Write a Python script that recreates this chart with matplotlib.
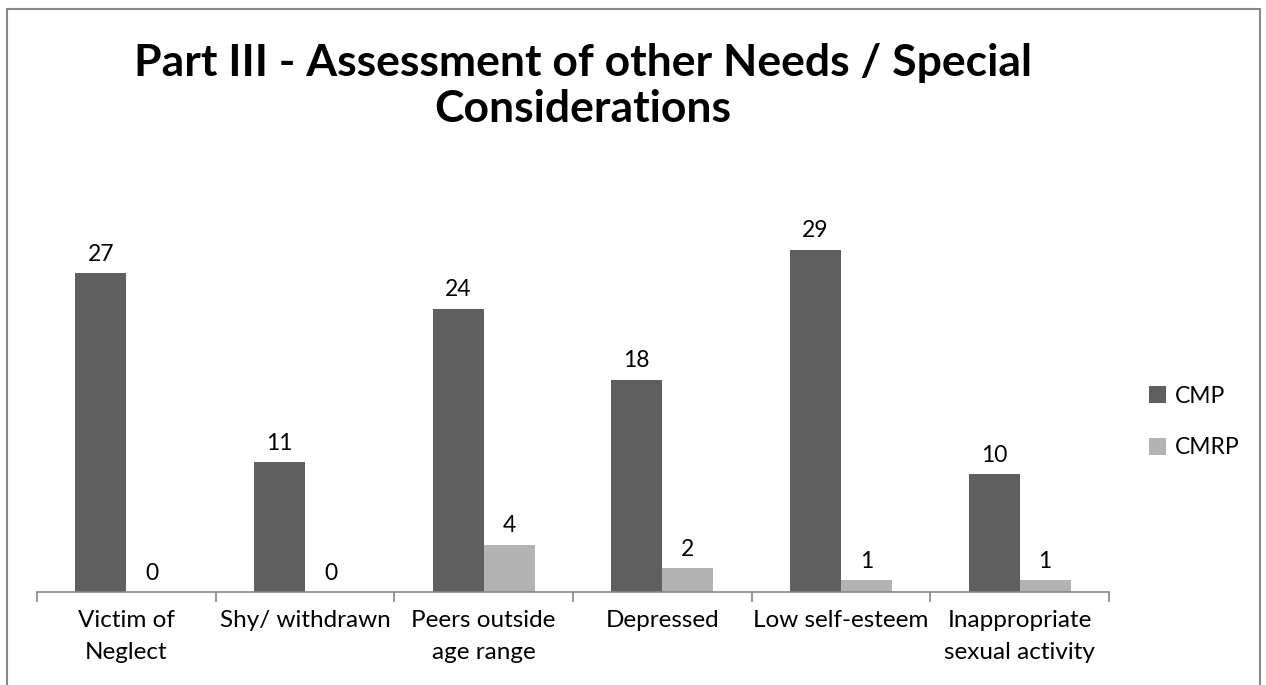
import numpy as np
import matplotlib.pyplot as plt
from matplotlib.patches import Rectangle

categories = ['Victim of\nNeglect', 'Shy/ withdrawn', 'Peers outside\nage range',
              'Depressed', 'Low self-esteem', 'Inappropriate\nsexual activity']
cmp_vals = [27, 11, 24, 18, 29, 10]
cmrp_vals = [0, 0, 4, 2, 1, 1]

dark = '#5f5f5f'
light = '#b3b3b3'

plt.rcParams['font.family'] = ['Lato', 'DejaVu Sans']

fig = plt.figure(figsize=(12.66, 6.85), dpi=100)
ax = fig.add_axes([37 / 1266, 1 - 592 / 685, (1109 - 37) / 1266, (592 - 179) / 685])

x = np.arange(len(categories))
w = 0.286
b1 = ax.bar(x - w / 2, cmp_vals, w, color=dark, label='CMP')
b2 = ax.bar(x + w / 2, cmrp_vals, w, color=light, label='CMRP')

for bars, vals in ((b1, cmp_vals), (b2, cmrp_vals)):
    for r, v in zip(bars, vals):
        ax.annotate(str(v), (r.get_x() + r.get_width() / 2, v), xytext=(0, 6),
                    textcoords='offset points', ha='center', va='bottom', fontsize=16.5)

ax.set_xlim(-0.5, len(categories) - 0.5)
ax.set_ylim(0, 35)
ax.set_yticks([])
for s in ('top', 'right', 'left'):
    ax.spines[s].set_visible(False)
ax.spines['bottom'].set_color('#868686')
ax.spines['bottom'].set_linewidth(1.2)

# category labels sit between tick marks placed at the boundaries
ax.set_xticks(np.arange(len(categories) + 1) - 0.5)
ax.set_xticklabels([])
ax.tick_params(axis='x', length=7, width=1.2, color='#868686')
ax.set_xticks(x, minor=True)
ax.set_xticklabels(categories, minor=True, fontsize=17.5, linespacing=1.65)
ax.tick_params(axis='x', which='minor', length=0, pad=13)

fig.text(583 / 1266, 1 - 86 / 685, 'Part III - Assessment of other Needs / Special\nConsiderations',
         ha='center', va='center', fontsize=32, fontweight='bold', linespacing=1.2)

leg = fig.legend(handles=[b1, b2], loc='center left', bbox_to_anchor=(1128 / 1266, 1 - 422 / 685),
                 frameon=False, fontsize=16.5, handlelength=0.75, handleheight=0.75,
                 handletextpad=0.4, labelspacing=1.35)

fig.patches.append(Rectangle((7 / 1266, -0.02), (1260 - 7) / 1266, 1 - 9 / 685 + 0.02,
                             transform=fig.transFigure, fill=False, edgecolor='#898989',
                             linewidth=1.5))

fig.savefig('out.png', dpi=100)
